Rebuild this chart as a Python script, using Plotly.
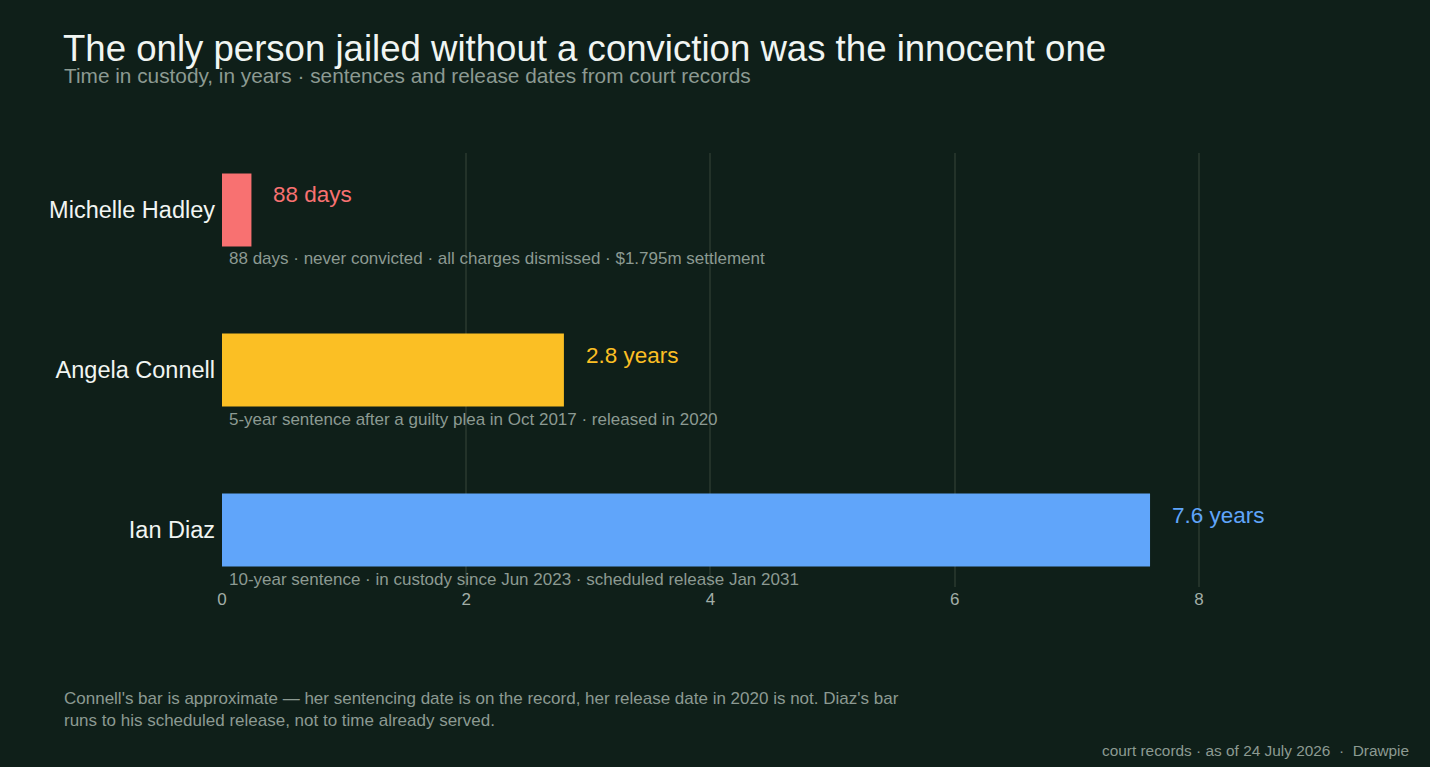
import plotly.graph_objects as go

names = ["Michelle Hadley", "Angela Connell", "Ian Diaz"]
years = [88 / 365, 2.8, 7.6]
value_labels = ["88 days", "2.8 years", "7.6 years"]
notes = [
    "88 days · never convicted · all charges dismissed · $1.795m settlement",
    "5-year sentence after a guilty plea in Oct 2017 · released in 2020",
    "10-year sentence · in custody since Jun 2023 · scheduled release Jan 2031",
]
colors = ["#f87171", "#fbbf24", "#60a5fa"]
x_ticks = [0, 2, 4, 6, 8]

BG = "#0f1f19"
FONT = "Liberation Sans, Arial, sans-serif"
W, H = 1430, 767
ML, MR, MT, MB = 222, 109, 153, 180
PW = W - ML - MR
PH = H - MT - MB


def px(x):
    return (x - ML) / PW


def py(y):
    return (H - MB - y) / PH


fig = go.Figure()
fig.add_trace(go.Bar(
    x=years, y=names, orientation="h",
    marker=dict(color=colors, line=dict(width=0)),
    width=0.456, hoverinfo="skip",
))

annotations = []
for n, v, lab, note, c in zip(names, years, value_labels, notes, colors):
    annotations.append(dict(
        x=v, y=n, xref="x", yref="y", text=lab, showarrow=False,
        xanchor="left", yanchor="middle", xshift=20, yshift=15,
        font=dict(size=22.5, color=c, family=FONT),
    ))
    annotations.append(dict(
        x=0, y=n, xref="x", yref="y", text=note, showarrow=False,
        xanchor="left", yanchor="middle", xshift=5, yshift=-49,
        font=dict(size=17, color="#8c9a92", family=FONT),
    ))

annotations.append(dict(
    x=px(62), y=py(75), xref="paper", yref="paper",
    text="Time in custody, in years · sentences and release dates from court records",
    showarrow=False, xanchor="left", yanchor="middle",
    font=dict(size=20.8, color="#8c9a92", family=FONT),
))
annotations.append(dict(
    x=px(62), y=py(709.5), xref="paper", yref="paper",
    text="Connell's bar is approximate — her sentencing date is on the record, her release date in 2020 is not. Diaz's bar<br>runs to his scheduled release, not to time already served.",
    showarrow=False, xanchor="left", yanchor="middle", align="left",
    font=dict(size=17, color="#8c9a92", family=FONT),
))
annotations.append(dict(
    x=px(1411), y=py(750), xref="paper", yref="paper",
    text="court records · as of 24 July 2026  ·  Drawpie",
    showarrow=False, xanchor="right", yanchor="middle",
    font=dict(size=15.4, color="#8c9a92", family=FONT),
))

fig.update_layout(
    width=W, height=H,
    margin=dict(l=ML, r=MR, t=MT, b=MB),
    paper_bgcolor=BG, plot_bgcolor=BG,
    showlegend=False,
    title=dict(
        text="The only person jailed without a conviction was the innocent one",
        x=63 / W, xref="container", xanchor="left",
        y=1 - 48 / H, yref="container", yanchor="middle",
        font=dict(size=36.6, color="#f1f5f2", family=FONT),
    ),
    xaxis=dict(
        range=[0, 9], tickvals=x_ticks, showgrid=True,
        gridcolor="#233229", gridwidth=2, zeroline=False,
        showline=False, ticks="",
        tickfont=dict(size=17, color="#a2aea7", family=FONT),
    ),
    yaxis=dict(
        type="category", categoryorder="array", categoryarray=names,
        range=[2.356, -0.356], showgrid=False, zeroline=False,
        showline=False, ticks="", ticklabelstandoff=6,
        tickfont=dict(size=23.5, color="#f1f5f2", family=FONT),
    ),
    annotations=annotations,
)

fig.write_html("out.html")
